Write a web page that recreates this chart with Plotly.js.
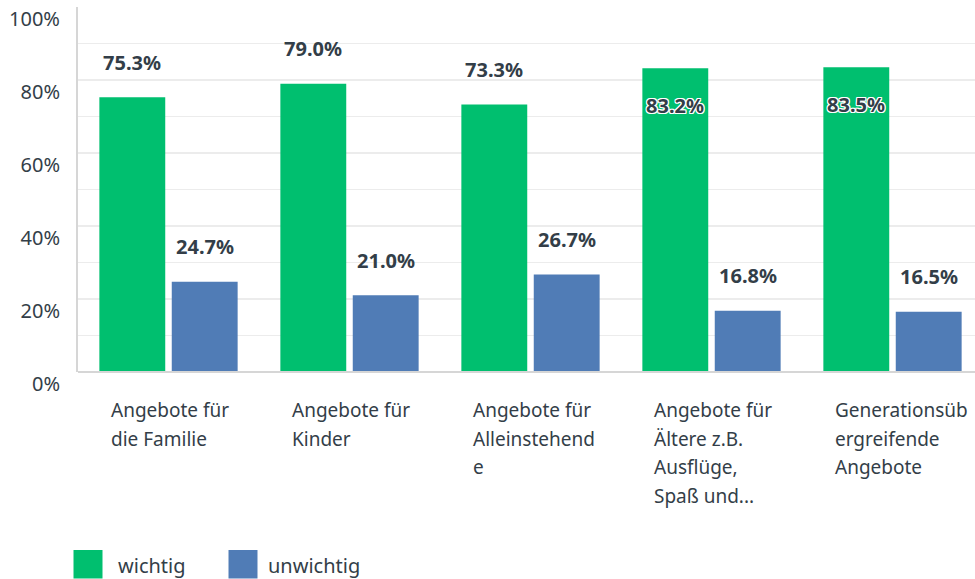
<!DOCTYPE html>
<html><head><meta charset="utf-8">
<script src="https://cdn.plot.ly/plotly-3.0.1.min.js"></script>
<style>html,body{margin:0;padding:0;background:#fff;}#chart{width:975px;height:579px;}</style>
</head><body><div id="chart"></div>
<script>
const categories = ["Angebote für<br>die Familie", "Angebote für<br>Kinder", "Angebote für<br>Alleinstehend<br>e", "Angebote für<br>Ältere z.B.<br>Ausflüge,<br>Spaß und...", "Generationsüb<br>ergreifende<br>Angebote"];
const seriesNames = ["wichtig", "unwichtig"];
const wichtig = [75.3, 79.0, 73.3, 83.2, 83.5];
const unwichtig = [24.7, 21.0, 26.7, 16.8, 16.5];
const tickValues = [0, 10, 20, 30, 40, 50, 60, 70, 80, 90, 100];
const tickLabels = ["0%", "", "20%", "", "40%", "", "60%", "", "80%", "", "100%"];

const colors = ["#00bf6f", "#507cb6"];
const textColor = "#333e48";
const FONT = "Noto Sans, sans-serif";
const W = 975, H = 579, ML = 78, MT = 7, MB = 207, MR = 0;
const plotH = H - MT - MB;
const plotW = W - ML - MR;
const catStep = 181;
const bargap = 0.2, bargroupgap = 0.09;
const slot = catStep * (1 - bargap) / 2;
const pyToPaper = py => (H - MB - py) / plotH;
const pxToPaper = px => (px - ML) / plotW;

const idx = categories.map((_, i) => i);
const series = [wichtig, unwichtig];
const traces = series.map((vals, s) => ({
  type: "bar", x: idx, y: vals, name: seriesNames[s],
  marker: {color: colors[s], line: {width: 0}},
  hoverinfo: "skip", showlegend: false
}));

const annotations = [];
const outline = "-1px -1px 0 #fff, 1px -1px 0 #fff, -1px 1px 0 #fff, 1px 1px 0 #fff, 0 1px 0 #fff, 0 -1px 0 #fff, 1px 0 0 #fff, -1px 0 0 #fff";
series.forEach((vals, s) => {
  vals.forEach((v, i) => {
    const inside = v >= 80;
    annotations.push({
      xref: "x", yref: "y", x: i, y: v, text: v.toFixed(1) + "%",
      xshift: (s === 0 ? -1 : 1) * slot / 2, yshift: inside ? -37 : 35,
      xanchor: "center", yanchor: "middle", showarrow: false,
      font: {family: FONT, size: 20, color: textColor, weight: 700, shadow: inside ? outline : "none"}
    });
  });
});
categories.forEach((c, i) => {
  c.split("<br>").forEach((line, k) => {
    annotations.push({
      xref: "x", yref: "paper", x: i, y: 0, text: line,
      xshift: -60, yshift: -38 - k * 28.7, xanchor: "left", yanchor: "middle",
      showarrow: false, align: "left",
      font: {family: FONT, size: 19, color: textColor}
    });
  });
});
const shapes = [];
const legendBoxes = [[73.5, 102.5], [228.5, 257.5]];
const legendText = [116, 266];
seriesNames.forEach((n, s) => {
  shapes.push({type: "rect", xref: "paper", yref: "paper",
    x0: pxToPaper(legendBoxes[s][0]), x1: pxToPaper(legendBoxes[s][1]),
    y0: pyToPaper(550), y1: pyToPaper(578.5),
    fillcolor: colors[s], line: {width: 0}});
  annotations.push({xref: "paper", yref: "paper", x: pxToPaper(legendText[s]), y: pyToPaper(565),
    text: n, xanchor: "left", yanchor: "middle", showarrow: false,
    font: {family: FONT, size: 20, color: textColor}});
});

const layout = {
  width: W, height: H,
  margin: {l: ML, r: MR, t: MT, b: MB, pad: 0},
  paper_bgcolor: "#fff", plot_bgcolor: "#fff",
  barmode: "group", bargap: bargap, bargroupgap: bargroupgap,
  showlegend: false,
  xaxis: {range: [-0.5, -0.5 + plotW / catStep], showticklabels: false, showgrid: false,
    zeroline: false, showline: false, ticks: "", fixedrange: true},
  yaxis: {range: [0, 100], tickvals: tickValues, ticktext: tickLabels,
    showgrid: true, gridcolor: "#ececec", gridwidth: 1.5,
    zeroline: false, showline: true, linecolor: "#d6d6d6", linewidth: 2,
    ticks: "", ticklabelstandoff: 12, ticklabelshift: 12,
    tickfont: {family: FONT, size: 20, color: textColor}, fixedrange: true},
  shapes: shapes.concat([{type: "line", xref: "paper", yref: "paper", x0: 0, x1: 1, y0: 0, y1: 0,
    line: {color: "#d6d6d6", width: 2}}]),
  annotations: annotations
};
Plotly.newPlot("chart", traces, layout, {displayModeBar: false, staticPlot: true});
</script></body></html>
